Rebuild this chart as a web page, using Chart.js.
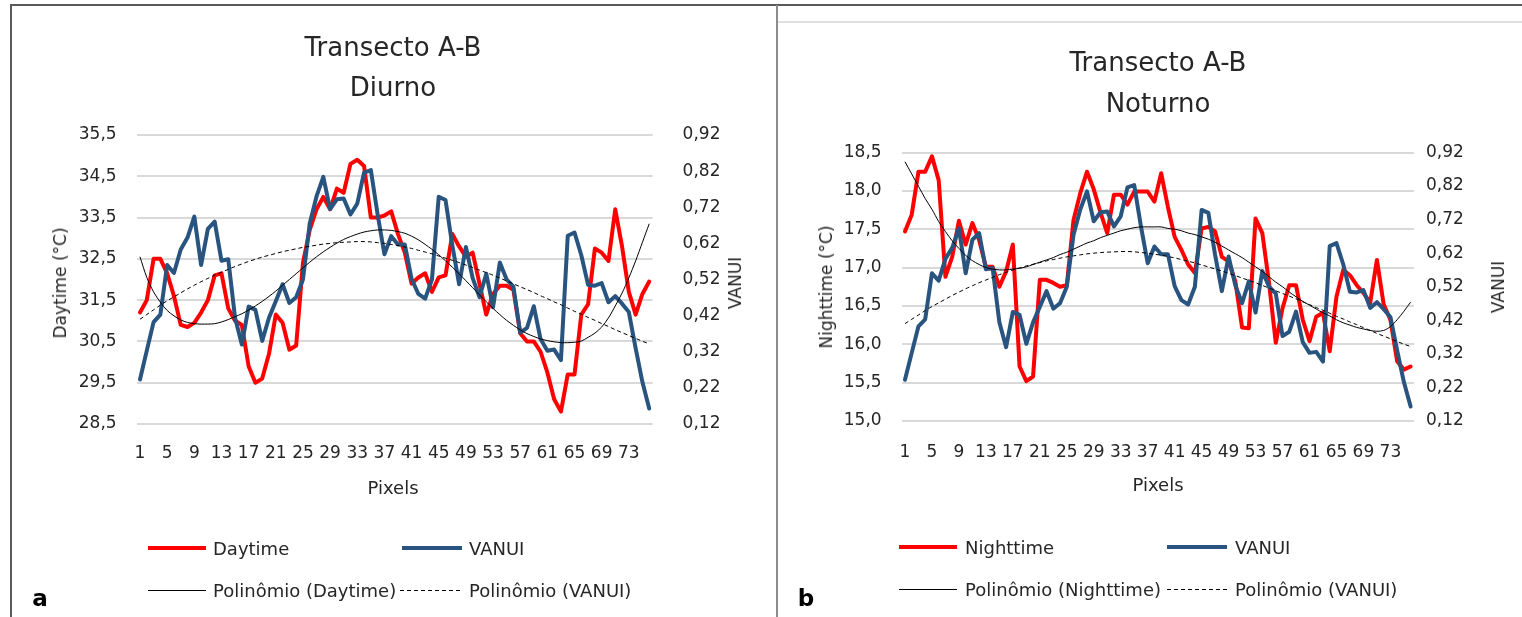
<!DOCTYPE html>
<html>
<head>
<meta charset="utf-8">
<script src="https://cdn.jsdelivr.net/npm/chart.js@4.4.1/dist/chart.umd.min.js"></script>
<style>
  html, body { margin: 0; padding: 0; background: #fff; }
  body { position: relative; width: 1522px; height: 617px; overflow: hidden;
         font-family: "DejaVu Sans", sans-serif; color: #262626; }
  .abs { position: absolute; }
  .c { transform: translate(-50%, -50%); white-space: nowrap; }
  .vl { transform: translate(-50%, -50%) rotate(-90deg); white-space: nowrap; }
  .leg { position: absolute; font-size: 18px; white-space: nowrap; transform: translateY(-50%); }
  canvas { position: absolute; top: 0; }
</style>
</head>
<body>
<!-- frames -->
<div class="abs" style="left:10px;top:4px;width:1512px;height:2px;background:#5a5a5a"></div>
<div class="abs" style="left:10px;top:4px;width:2px;height:613px;background:#5a5a5a"></div>
<div class="abs" style="left:776px;top:5px;width:2px;height:612px;background:#8c8c8c"></div>
<div class="abs" style="left:778px;top:21px;width:744px;height:2px;background:#e0e0e0"></div>

<canvas id="cA" width="770" height="520" style="left:0px"></canvas>
<canvas id="cB" width="744" height="520" style="left:778px"></canvas>

<!-- chart titles -->
<div class="abs c" style="left:393px;top:47px;font-size:26px">Transecto A-B</div>
<div class="abs c" style="left:393px;top:87px;font-size:26px">Diurno</div>
<div class="abs c" style="left:1158px;top:62px;font-size:26px">Transecto A-B</div>
<div class="abs c" style="left:1158px;top:103px;font-size:26px">Noturno</div>

<!-- axis titles -->
<div class="abs vl" style="left:60px;top:283px;font-size:17px">Daytime (°C)</div>
<div class="abs vl" style="left:735px;top:283px;font-size:17px">VANUI</div>
<div class="abs c" style="left:393px;top:487px;font-size:18px">Pixels</div>
<div class="abs vl" style="left:826px;top:287px;font-size:17px">Nighttime (°C)</div>
<div class="abs vl" style="left:1498px;top:287px;font-size:17px">VANUI</div>
<div class="abs c" style="left:1158px;top:484px;font-size:18px">Pixels</div>

<!-- legends -->
<svg class="abs" style="left:0;top:0" width="1522" height="617">
  <line x1="148" y1="548" x2="206" y2="548" stroke="#ff0000" stroke-width="4"/>
  <line x1="402" y1="548" x2="462" y2="548" stroke="#28547f" stroke-width="4"/>
  <line x1="148" y1="590.5" x2="206" y2="590.5" stroke="#000" stroke-width="1"/>
  <line x1="400" y1="590.5" x2="462" y2="590.5" stroke="#000" stroke-width="1" stroke-dasharray="4,3"/>
  <line x1="899" y1="547" x2="957" y2="547" stroke="#ff0000" stroke-width="4"/>
  <line x1="1167" y1="547" x2="1227" y2="547" stroke="#28547f" stroke-width="4"/>
  <line x1="899" y1="589.5" x2="957" y2="589.5" stroke="#000" stroke-width="1"/>
  <line x1="1167" y1="589.5" x2="1227" y2="589.5" stroke="#000" stroke-width="1" stroke-dasharray="4,3"/>
</svg>
<div class="leg" style="left:213px;top:548px">Daytime</div>
<div class="leg" style="left:469px;top:548px">VANUI</div>
<div class="leg" style="left:213px;top:590px">Polinômio (Daytime)</div>
<div class="leg" style="left:469px;top:590px">Polinômio (VANUI)</div>
<div class="leg" style="left:965px;top:547px">Nighttime</div>
<div class="leg" style="left:1235px;top:547px">VANUI</div>
<div class="leg" style="left:965px;top:589px">Polinômio (Nighttime)</div>
<div class="leg" style="left:1235px;top:589px">Polinômio (VANUI)</div>

<div class="abs c" style="left:40px;top:598px;font-size:23px;font-weight:bold;color:#000">a</div>
<div class="abs c" style="left:806px;top:598px;font-size:23px;font-weight:bold;color:#000">b</div>

<script>
// ---------------- data ----------------
const categories = [1,2,3,4,5,6,7,8,9,10,11,12,13,14,15,16,17,18,19,20,21,22,23,24,25,26,27,28,29,30,31,32,33,34,35,36,37,38,39,40,41,42,43,44,45,46,47,48,49,50,51,52,53,54,55,56,57,58,59,60,61,62,63,64,65,66,67,68,69,70,71,72,73,74,75,76];
const xTickLabels = [1,5,9,13,17,21,25,29,33,37,41,45,49,53,57,61,65,69,73];

const dayTicks = [28.5,29.5,30.5,31.5,32.5,33.5,34.5,35.5];
const nightTicks = [15.0,15.5,16.0,16.5,17.0,17.5,18.0,18.5];
const vanuiTicks = [0.12,0.22,0.32,0.42,0.52,0.62,0.72,0.82,0.92];

const daytime = [31.2,31.5,32.5,32.5,32.15,31.6,30.9,30.85,30.95,31.2,
  31.5,32.1,32.15,31.3,31.0,30.9,29.9,29.5,29.6,30.2,
  31.15,30.95,30.3,30.4,32.4,33.2,33.7,34.0,33.7,34.2,
  34.1,34.8,34.9,34.75,33.5,33.5,33.55,33.65,33.1,32.65,
  31.9,32.05,32.15,31.7,32.05,32.1,33.1,32.8,32.55,32.65,
  31.9,31.15,31.65,31.85,31.85,31.75,30.7,30.5,30.5,30.25,
  29.75,29.1,28.8,29.7,29.7,31.15,31.4,32.75,32.65,32.45,
  33.7,32.8,31.7,31.15,31.65,31.95];

const nighttime = [17.47,17.69,18.25,18.25,18.45,18.14,16.88,17.14,17.61,17.3,
  17.58,17.36,17.01,17.01,16.75,16.95,17.3,15.71,15.52,15.58,
  16.84,16.84,16.8,16.75,16.77,17.62,17.97,18.25,18.02,17.72,
  17.45,17.95,17.95,17.82,17.99,17.99,17.99,17.86,18.23,17.79,
  17.4,17.23,17.04,16.93,17.51,17.53,17.47,17.14,17.08,16.82,
  16.22,16.21,17.64,17.45,16.8,16.02,16.47,16.77,16.77,16.32,
  16.04,16.36,16.41,15.91,16.62,16.97,16.9,16.77,16.67,16.54,
  17.1,16.52,16.32,15.78,15.67,15.71];

const vanui = [0.243,0.323,0.402,0.423,0.56,0.538,0.603,0.636,0.694,0.56,
  0.66,0.68,0.572,0.576,0.414,0.34,0.445,0.436,0.35,0.414,
  0.46,0.507,0.455,0.471,0.52,0.675,0.75,0.804,0.715,0.742,
  0.744,0.70,0.73,0.816,0.823,0.70,0.59,0.64,0.617,0.617,
  0.522,0.48,0.467,0.52,0.749,0.74,0.615,0.507,0.61,0.524,
  0.471,0.536,0.443,0.567,0.52,0.50,0.373,0.386,0.446,0.355,
  0.323,0.326,0.297,0.641,0.65,0.587,0.505,0.503,0.51,0.457,
  0.474,0.453,0.43,0.33,0.236,0.163];

const polyDaytime = [32.55,32.05,31.7,31.45,31.25,31.12,31.02,30.96,30.93,30.92,
  30.92,30.93,30.97,31.03,31.1,31.17,31.26,31.36,31.47,31.59,
  31.72,31.86,32.0,32.14,32.28,32.42,32.55,32.67,32.78,32.88,
  32.97,33.04,33.1,33.15,33.18,33.2,33.2,33.19,33.16,33.12,
  33.05,32.96,32.85,32.73,32.6,32.45,32.3,32.14,31.97,31.8,
  31.63,31.46,31.3,31.15,31.01,30.89,30.78,30.69,30.62,30.56,
  30.52,30.49,30.47,30.47,30.48,30.51,30.6,30.7,30.85,31.07,
  31.36,31.67,32.04,32.45,32.9,33.35];

const polyNighttime = [18.38,18.22,18.06,17.9,17.76,17.6,17.47,17.35,17.25,17.16,
  17.09,17.04,17.0,16.98,16.97,16.97,16.98,16.99,17.01,17.04,
  17.07,17.1,17.13,17.17,17.2,17.24,17.28,17.32,17.35,17.39,
  17.42,17.45,17.48,17.5,17.52,17.53,17.53,17.53,17.53,17.51,
  17.5,17.48,17.45,17.43,17.4,17.37,17.33,17.28,17.23,17.18,
  17.13,17.07,17.01,16.95,16.88,16.81,16.75,16.68,16.62,16.56,
  16.51,16.46,16.41,16.37,16.32,16.28,16.25,16.22,16.2,16.18,
  16.17,16.18,16.23,16.32,16.43,16.55];

const polyVanui = [0.41,0.423,0.436,0.449,0.461,0.472,0.483,0.494,0.504,0.514,
  0.523,0.532,0.54,0.548,0.556,0.563,0.57,0.576,0.582,0.587,
  0.592,0.597,0.601,0.605,0.609,0.612,0.615,0.618,0.62,0.622,
  0.623,0.624,0.625,0.625,0.624,0.622,0.62,0.617,0.614,0.61,
  0.606,0.601,0.596,0.591,0.585,0.579,0.573,0.567,0.56,0.553,
  0.546,0.539,0.532,0.524,0.516,0.508,0.5,0.492,0.484,0.475,
  0.467,0.458,0.45,0.441,0.432,0.424,0.415,0.407,0.398,0.39,
  0.381,0.373,0.365,0.357,0.349,0.342];

// ---------------- styles ----------------
const RED = '#ff0000', BLUE = '#28547f';
const FONT = 'DejaVu Sans';
const TICKCOL = '#262626';
const comma = (v, d) => Number(v).toFixed(d).replace('.', ',');

function build(canvasId, cfg) {
  const labels = categories.map(String);
  return new Chart(document.getElementById(canvasId), {
    type: 'line',
    data: {
      labels: labels,
      datasets: [
        { label: 'Polinômio (' + cfg.name + ')', data: cfg.poly, yAxisID: 'yT',
          borderColor: '#000', borderWidth: 1, pointRadius: 0, tension: 0.3 },
        { label: 'Polinômio (VANUI)', data: polyVanui, yAxisID: 'yV',
          borderColor: '#000', borderWidth: 1, borderDash: [4, 3], pointRadius: 0, tension: 0.3 },
        { label: 'VANUI', data: vanui, yAxisID: 'yV',
          borderColor: BLUE, borderWidth: 4, pointRadius: 0, tension: 0,
          borderJoinStyle: 'round', borderCapStyle: 'round' },
        { label: cfg.name, data: cfg.temp, yAxisID: 'yT',
          borderColor: RED, borderWidth: 4, pointRadius: 0, tension: 0,
          borderJoinStyle: 'round', borderCapStyle: 'round' }
      ]
    },
    options: {
      responsive: false, animation: false, devicePixelRatio: 1,
      layout: { padding: { left: 0, right: cfg.padRight, top: cfg.top, bottom: cfg.padBottom } },
      plugins: { legend: { display: false }, tooltip: { enabled: false }, title: { display: false } },
      scales: {
        x: {
          type: 'category', offset: true,
          grid: { display: false }, border: { display: false },
          ticks: {
            autoSkip: false, maxRotation: 0, minRotation: 0, padding: cfg.xPad,
            color: TICKCOL, font: { family: FONT, size: 17 },
            callback: function (v, i) { return xTickLabels.includes(categories[i]) ? String(categories[i]) : ''; }
          },
          afterFit: s => { s.height = 60; }
        },
        yT: {
          position: 'left', min: cfg.ticks[0], max: cfg.ticks[cfg.ticks.length - 1],
          grid: { color: '#d9d9d9', lineWidth: 2, drawTicks: false },
          border: { display: false },
          ticks: { padding: cfg.lPad, color: TICKCOL, font: { family: FONT, size: 17 },
                   callback: v => comma(v, 1) },
          afterBuildTicks: s => { s.ticks = cfg.ticks.map(v => ({ value: v })); },
          afterFit: s => { s.width = cfg.leftW; }
        },
        yV: {
          position: 'right', min: 0.12, max: 0.92,
          grid: { display: false, drawTicks: false }, border: { display: false },
          ticks: { padding: cfg.rPad, color: TICKCOL, font: { family: FONT, size: 17 },
                   callback: v => comma(v, 2) },
          afterBuildTicks: s => { s.ticks = vanuiTicks.map(v => ({ value: v })); },
          afterFit: s => { s.width = cfg.rightW; }
        }
      }
    }
  });
}

build('cA', { name: 'Daytime', temp: daytime, poly: polyDaytime, ticks: dayTicks,
  top: 135, padBottom: 36, padRight: 17.4, leftW: 136.6, rightW: 100,
  lPad: 20, rPad: 30, xPad: 11 });
build('cB', { name: 'Nighttime', temp: nighttime, poly: polyNighttime, ticks: nightTicks,
  top: 152.5, padBottom: 39, padRight: 18, leftW: 123.6, rightW: 90,
  lPad: 20, rPad: 12, xPad: 13 });
</script>
</body>
</html>
